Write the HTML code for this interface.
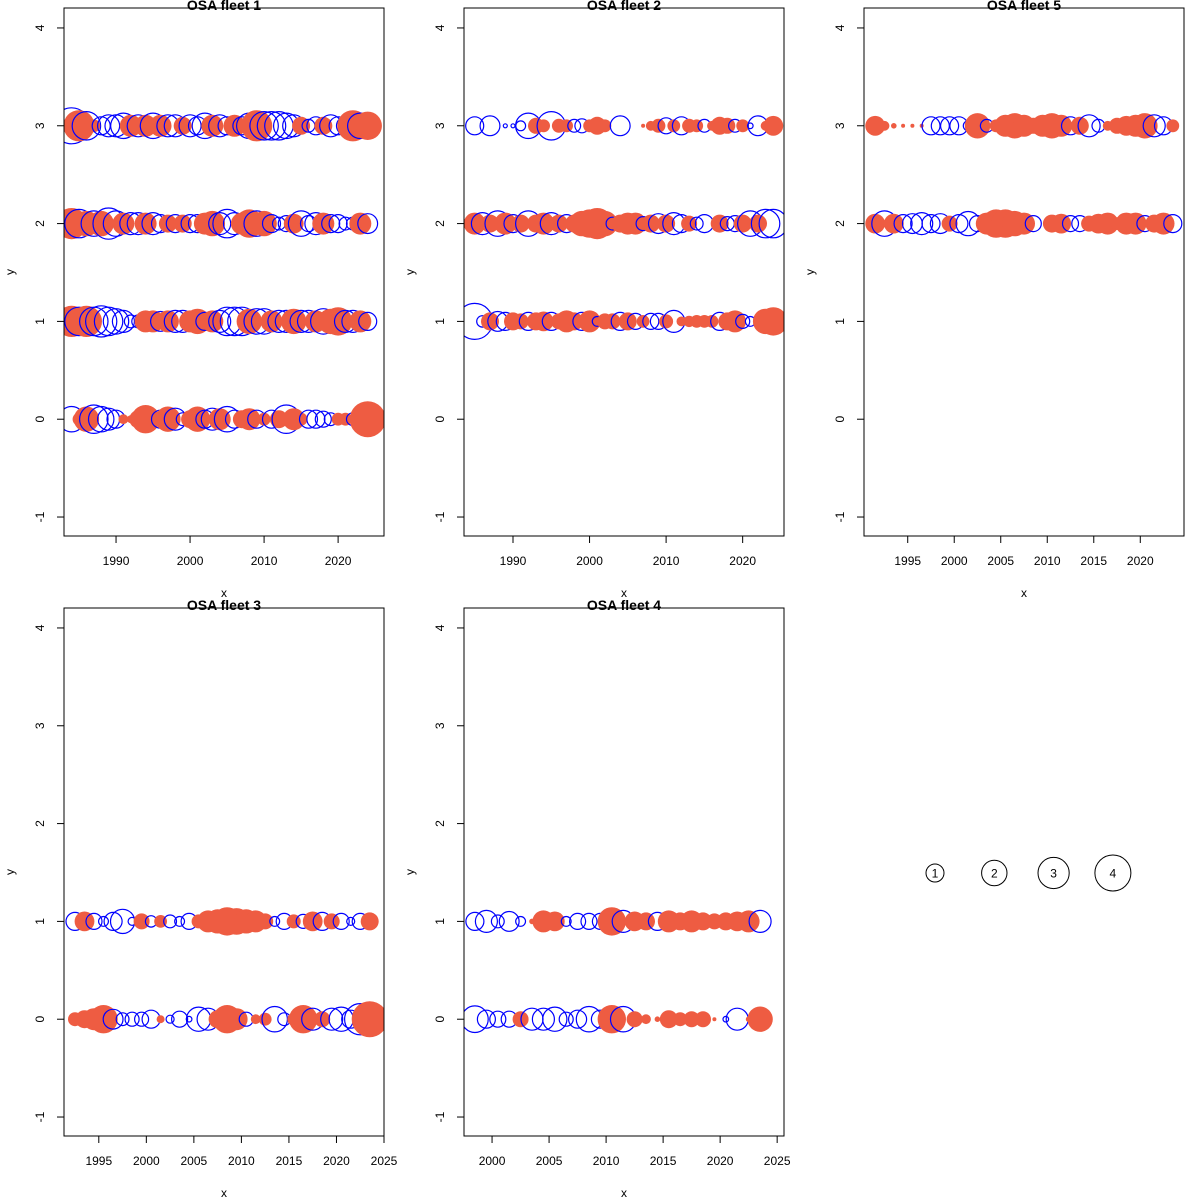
<!DOCTYPE html>
<html><head><meta charset="utf-8"><style>
html,body{margin:0;padding:0;background:#fff;}
svg{display:block;font-family:"Liberation Sans",Arial,sans-serif;}
</style></head><body>
<svg id="chart" width="1200" height="1200" viewBox="0 0 1200 1200" xmlns="http://www.w3.org/2000/svg"></svg>
<script>
// ---- data ----
const f1Years = [1984,1985,1986,1987,1988,1989,1990,1991,1992,1993,1994,1995,1996,1997,1998,1999,2000,2001,2002,2003,2004,2005,2006,2007,2008,2009,2010,2011,2012,2013,2014,2015,2016,2017,2018,2019,2020,2021,2022,2023,2024];
const f1Row3 = [-4,3,-2.5,0.5,-1,-1.5,-1.5,-2,1.5,-1.5,1.5,-2,1.5,-1.5,-1.5,1,-1.5,-1,-2,1.5,-1.5,-1,1.5,-1,-2,3,-2.5,-2.5,-2.5,-2,-1.5,1,-0.5,-1,1,-1.5,-1,-1,3,-2,2.5];
const f1Row2 = [3,-2.5,2,-2,2,-3,-2,1.5,-1.5,-1.5,1.5,-1.5,-1,1,-1,1,-1,-1,1.5,2,-1.5,-2.5,-1.5,1.5,2.5,-2,2,-1,-0.5,-0.8,1.2,-2,-0.8,-1.5,1.5,-1,-1,-0.5,-0.5,1.5,-1.2];
const f1Row1 = [3,-2.5,3,-2.5,-3,-2.5,-2,-1.5,-0.5,-0.5,1.5,1.5,-1.2,1.5,-1.5,-1.5,1.5,2,-1,1.5,-1.5,-2.5,-2.5,-2.5,2,-2,-2,1.5,-1.5,-1.5,2,-1.5,-1.5,1.5,-2,2,2.5,-1.5,-1.5,1.5,-1];
const f1Row0 = [-2,0.5,2,-2.5,-2,-1.5,-1,0.3,0.2,1,2.5,0.3,-1,2,-1.5,-0.5,1,2,-1,-1.5,1.5,-2,-1,1,1.5,-1,0.5,-1,1,-2.5,1.5,0.5,-1,-1,-0.8,-0.5,0.5,0.5,-0.5,-1,4];

const f2Years = [1985,1986,1987,1988,1989,1990,1991,1992,1993,1994,1995,1996,1997,1998,1999,2000,2001,2002,2003,2004,2005,2006,2007,2008,2009,2010,2011,2012,2013,2014,2015,2016,2017,2018,2019,2020,2021,2022,2023,2024];
const f2Row3 = [-1,0,-1.2,0,-0.05,-0.05,-0.3,-2,0.8,0.5,-2.5,0.6,0.5,-0.5,-0.6,0.5,1,0.5,0,-1.2,0,0,0.05,0.3,0.6,-0.8,0.5,-1,0.6,0.5,-0.5,0.3,1,0.8,-0.5,0.5,-0.1,-1.2,0.3,1.2];
const f2Row2 = [1.5,-1.5,1,-2,1.5,-1,1,-2,1,1.5,-1.5,1,-1,1,2,2.5,3,2,-0.5,1,1.5,1.5,-0.6,1,-1.2,1,-1.5,-1,0.8,-0.5,-1,0,1,-0.6,-0.8,1,-2,1,-2.5,-2.5];
const f2Row1 = [-4,-0.4,1,-1.2,-1,1,0.8,-1,1,1.2,-1,0.8,1.5,1,-1,1.5,-0.3,0.8,0.8,-1,1,-0.8,0.5,-0.8,-0.8,0.6,-1.5,0.3,0.4,0.5,0.5,0.5,-1,1,1.5,-0.6,-0.3,0,2,2.5];

const f5Years = [1991.5,1992.5,1993.5,1994.5,1995.5,1996.5,1997.5,1998.5,1999.5,2000.5,2001.5,2002.5,2003.5,2004.5,2005.5,2006.5,2007.5,2008.5,2009.5,2010.5,2011.5,2012.5,2013.5,2014.5,2015.5,2016.5,2017.5,2018.5,2019.5,2020.5,2021.5,2022.5,2023.5];
const f5Row3 = [1.2,0.3,0.1,0.05,0.05,0.05,-1,-1,-1,-1,-0.3,2,-0.5,0.5,1.5,2,1.5,0.8,1.5,2,1.5,-1,1,-1.5,-0.5,0.3,0.8,1.2,1.5,2,-1.5,-1,0.5];
const f5Row2 = [1.2,-2,1.2,-1,-1.2,-1.5,-1,-1.2,0.8,-1,-1.8,-0.8,1.5,2.5,2.5,2,1.5,-0.8,0,1,1.2,-0.8,-0.8,0.8,1.2,1.5,0.5,1.5,1.5,-0.8,1,1.5,-1];

const f3Years = [1992.5,1993.5,1994.5,1995.5,1996.5,1997.5,1998.5,1999.5,2000.5,2001.5,2002.5,2003.5,2004.5,2005.5,2006.5,2007.5,2008.5,2009.5,2010.5,2011.5,2012.5,2013.5,2014.5,2015.5,2016.5,2017.5,2018.5,2019.5,2020.5,2021.5,2022.5,2023.5];
const f3Row1 = [-1,1.2,-0.8,-0.3,-1,-1.8,-0.2,0.8,-0.4,0.5,-0.5,-0.3,-0.8,0.6,1.5,1.8,2.5,2.2,1.8,1.5,0.8,-0.3,-0.8,0.6,-0.6,1.2,-1,0.8,-0.8,-0.2,-0.8,1];
const f3Row0 = [0.6,1,1.5,2.5,-1.2,-0.5,-0.6,-0.6,-1,0.2,-0.2,-0.8,-0.1,-1.8,-1.5,1,2.5,1.5,-0.6,0.3,0.5,-2,-0.5,0.5,2.5,-1.5,0.8,-1.5,-1.8,-1,-3,4];

const f4Years = [1998.5,1999.5,2000.5,2001.5,2002.5,2003.5,2004.5,2005.5,2006.5,2007.5,2008.5,2009.5,2010.5,2011.5,2012.5,2013.5,2014.5,2015.5,2016.5,2017.5,2018.5,2019.5,2020.5,2021.5,2022.5,2023.5];
const f4Row1 = [-1,-1.5,-0.5,-1.2,-0.3,0.1,1.5,1.2,-0.3,-0.8,-0.8,-0.8,2.5,-1.5,1.2,1,-1,1.5,1,1.5,1,0.8,1,1.2,1.5,-1.5];
const f4Row0 = [-2.2,-1,-0.8,-0.8,0.8,-1.5,-1.5,-1.8,-0.6,-1,-2,-1,2.5,-2,0.8,0.3,0.1,1,0.6,0.8,0.8,0.05,-0.1,-1.5,0.1,2];

const legendValues = [1,2,3,4];
const yTicks = [-1,0,1,2,3,4];

// ---- layout ----
const NS = "http://www.w3.org/2000/svg";
const svg = document.getElementById('chart');
const RED = "#EE5C42", BLUE = "#0000FF";
function mk(tag, attrs, parent){
  const e = document.createElementNS(NS, tag);
  for (const k in attrs) e.setAttribute(k, attrs[k]);
  (parent||svg).appendChild(e); return e;
}
const panels = [
  {id:'fleet-1', title:'OSA fleet 1', x0:64, x1:384, y0:8, y1:536, xmin:1982.97, xmax:2026.2, xt:[1990,2000,2010,2020], years:f1Years, rows:[[3,f1Row3],[2,f1Row2],[1,f1Row1],[0,f1Row0]]},
  {id:'fleet-2', title:'OSA fleet 2', x0:464, x1:784, y0:8, y1:536, xmin:1983.6, xmax:2025.4, xt:[1990,2000,2010,2020], years:f2Years, rows:[[3,f2Row3],[2,f2Row2],[1,f2Row1]]},
  {id:'fleet-5', title:'OSA fleet 5', x0:864, x1:1184, y0:8, y1:536, xmin:1990.3, xmax:2024.7, xt:[1995,2000,2005,2010,2015,2020], years:f5Years, rows:[[3,f5Row3],[2,f5Row2]]},
  {id:'fleet-3', title:'OSA fleet 3', x0:64, x1:384, y0:608, y1:1136, xmin:1991.34, xmax:2025.0, xt:[1995,2000,2005,2010,2015,2020,2025], years:f3Years, rows:[[1,f3Row1],[0,f3Row0]]},
  {id:'fleet-4', title:'OSA fleet 4', x0:464, x1:784, y0:608, y1:1136, xmin:1997.54, xmax:2025.6, xt:[2000,2005,2010,2015,2020,2025], years:f4Years, rows:[[1,f4Row1],[0,f4Row0]]}
];
const YMIN = -1.194, YMAX = 4.204;
const defs = mk('defs', {});
panels.forEach((p, pi) => {
  const g = mk('g', {});
  
  
  const sx = v => p.x0 + (v - p.xmin) / (p.xmax - p.xmin) * (p.x1 - p.x0);
  const sy = v => p.y1 - (v - YMIN) / (YMAX - YMIN) * (p.y1 - p.y0);
  const cp = mk('clipPath', {id:'clip' + pi}, defs);
  mk('rect', {x:p.x0, y:p.y0, width:p.x1 - p.x0, height:p.y1 - p.y0}, cp);
  const marks = mk('g', {'clip-path':'url(#clip' + pi + ')'}, g);
  p.rows.forEach(([yv, vals]) => {
    vals.forEach((v, i) => {
      if (v === 0) return;
      const r = 9 * Math.sqrt(Math.abs(v));
      const c = mk('circle', {cx:sx(p.years[i]).toFixed(1), cy:sy(yv).toFixed(1), r:r.toFixed(1),
        fill: v > 0 ? RED : 'none', stroke: v > 0 ? 'none' : BLUE, 'stroke-width':1.2}, marks);
      
      
    });
  });
  const box = mk('rect', {x:p.x0, y:p.y0, width:p.x1 - p.x0, height:p.y1 - p.y0, fill:'none', stroke:'#000', 'stroke-width':1}, g);
  
  
  const t = mk('text', {x:(p.x0 + p.x1) / 2, y:p.y0 + 2, 'text-anchor':'middle', 'font-size':14, 'font-weight':'bold'}, g);
  t.textContent = p.title;
  
  
  const xa = mk('g', {}, g);
  
  
  mk('line', {x1:sx(p.xt[0]), x2:sx(p.xt[p.xt.length - 1]), y1:p.y1, y2:p.y1, stroke:'#000'}, xa);
  p.xt.forEach(v => {
    mk('line', {x1:sx(v), x2:sx(v), y1:p.y1, y2:p.y1 + 7, stroke:'#000'}, xa);
    const l = mk('text', {x:sx(v), y:p.y1 + 29, 'text-anchor':'middle', 'font-size':12}, xa);
    l.textContent = v;
    
    
  });
  const xl = mk('text', {x:(p.x0 + p.x1) / 2, y:p.y1 + 61, 'text-anchor':'middle', 'font-size':12}, g);
  xl.textContent = 'x';
  
  
  const ya = mk('g', {}, g);
  
  
  mk('line', {x1:p.x0, x2:p.x0, y1:sy(-1), y2:sy(4), stroke:'#000'}, ya);
  yTicks.forEach(v => {
    mk('line', {x1:p.x0 - 7, x2:p.x0, y1:sy(v), y2:sy(v), stroke:'#000'}, ya);
    const xx = p.x0 - 20, yy = sy(v);
    const l = mk('text', {x:xx, y:yy, 'text-anchor':'middle', 'font-size':12, transform:'rotate(-90 ' + xx + ' ' + yy + ')'}, ya);
    l.textContent = v;
    
    
  });
  const yx = p.x0 - 50, yy = (p.y0 + p.y1) / 2;
  const yl = mk('text', {x:yx, y:yy, 'text-anchor':'middle', 'font-size':12, transform:'rotate(-90 ' + yx + ' ' + yy + ')'}, g);
  yl.textContent = 'y';
  
  
});
const lg = mk('g', {});


legendValues.forEach((v, i) => {
  const cx = 935 + i * 59.3, cy = 873;
  const c = mk('circle', {cx:cx, cy:cy, r:(9 * Math.sqrt(v)).toFixed(1), fill:'none', stroke:'#000', 'stroke-width':1}, lg);
  
  
  const t = mk('text', {x:cx, y:cy + 4.5, 'text-anchor':'middle', 'font-size':12}, lg);
  t.textContent = v;
  
  
});
</script>
</body></html>
